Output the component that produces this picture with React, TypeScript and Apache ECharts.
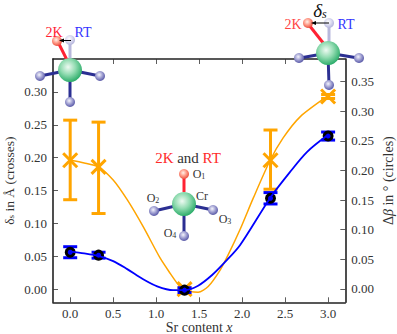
import React, { useEffect, useRef } from "react";
import * as echarts from "echarts";

const FONT = "'Liberation Serif', serif";
const INK = "#333333";
const ORANGE = "#ffa500";
const BLUE = "#0000ff";
const RED = "#ff2233";

const xTicks = [0, 0.5, 1, 1.5, 2, 2.5, 3];
const leftTicks = [0, 0.05, 0.1, 0.15, 0.2, 0.25, 0.3];
const rightTicks = [0, 0.05, 0.1, 0.15, 0.2, 0.25, 0.3, 0.35];

const srContent = [0, 0.33, 1.33, 2.33, 3];
const deltaS = [0.196, 0.186, 0, 0.196, 0.293];
const deltaSLow = [0.136, 0.115, -0.002, 0.152, 0.29];
const deltaSHigh = [0.257, 0.254, 0.002, 0.242, 0.296];
const deltaBeta = [0.062, 0.057, -0.002, 0.153, 0.258];
const deltaBetaLow = [0.0527, 0.052, -0.006, 0.1434, 0.2512];
const deltaBetaHigh = [0.0713, 0.062, 0.002, 0.1626, 0.2648];

const orangeCurveX = [0, 0.163, 0.326, 0.5, 0.663, 0.849, 1.047, 1.163, 1.256, 1.326, 1.488, 1.605, 1.744, 1.837, 1.977, 2.128, 2.326, 2.477, 2.674, 2.988];
const orangeCurveY = [0.196, 0.192, 0.186, 0.166, 0.136, 0.095, 0.047, 0.024, 0.007, -0.0015, -0.0046, 0.004, 0.029, 0.052, 0.091, 0.138, 0.196, 0.23, 0.262, 0.293];
const blueCurveX = [0, 0.163, 0.326, 0.5, 0.663, 0.849, 1.012, 1.198, 1.326, 1.488, 1.651, 1.802, 1.977, 2.326, 2.558, 2.756, 2.988];
const blueCurveY = [0.063, 0.06, 0.0557, 0.047, 0.0335, 0.0165, 0.0045, -0.002, -0.002, 0.0055, 0.0235, 0.0456, 0.0743, 0.1536, 0.1975, 0.2313, 0.2588];

const pairs = (a: number[], b: number[]) => a.map((v, i) => [v, b[i]]);

const gradient = (stops: string[]) => ({
  type: "radial",
  x: 0.42,
  y: 0.38,
  r: 0.62,
  colorStops: stops.map((color, i) => ({ offset: i / (stops.length - 1), color })),
});
const GREEN_BALL = gradient(["#eefaf2", "#93dcb2", "#2fae6c"]);
const BLUE_BALL = gradient(["#f4f4fc", "#a4a4d4", "#5a5aa8"]);
const RED_BALL = gradient(["#fff2ea", "#ff9e8c", "#ea5240"]);
const PALE_BALL = gradient(["#ffffff", "#dcdcf0", "#b4b4dc"]);
const STICK = "#2b2f92";
const PALE_STICK = "#b8b8dc";

const Z = 100;
const stick = (x1: number, y1: number, x2: number, y2: number, stroke: string) => ({
  type: "line", z: Z, shape: { x1, y1, x2, y2 }, style: { stroke, lineWidth: 3 },
});
const ball = (cx: number, cy: number, r: number, fill: any) => ({
  type: "circle", z: Z + 1, shape: { cx, cy, r }, style: { fill },
});
const SUB = { s: { fontSize: 8, fontFamily: FONT, fill: INK, padding: [5, 0, 0, 0] } };
const label = (x: number, y: number, text: string, fill: string, fontSize: number, extra: any = {}) => ({
  type: "text", z: Z + 2, x, y,
  style: { text, fill, fontSize, fontFamily: FONT, align: "center", verticalAlign: "middle", rich: SUB, ...extra },
});
const arrow = (x1: number, x2: number, y: number) => [
  { type: "line", z: Z + 3, shape: { x1, y1: y, x2: x2 + 3, y2: y }, style: { stroke: "#000", lineWidth: 1 } },
  { type: "polygon", z: Z + 3, shape: { points: [[x2, y], [x2 + 5, y - 2], [x2 + 5, y + 2]] }, style: { fill: "#000" } },
];

const molecules = [
  // left molecule
  stick(70, 70, 40, 76, STICK), stick(70, 70, 100, 76, STICK), stick(70, 70, 70, 102, STICK),
  stick(70, 60, 70, 40, PALE_STICK), stick(68, 62, 58, 42, RED),
  ball(40, 76, 5, BLUE_BALL), ball(100, 76, 5, BLUE_BALL), ball(70, 102, 5, BLUE_BALL),
  ball(57, 41, 5, RED_BALL), ball(70, 40, 5, PALE_BALL), ball(70, 70, 12, GREEN_BALL),
  ...arrow(71, 59, 40.5),
  label(54, 32, "2K", RED, 14), label(83, 32, "RT", "#3333ff", 14),
  // right molecule
  stick(328, 53, 300, 58, STICK), stick(328, 53, 358, 58, STICK), stick(328, 53, 329, 85, STICK),
  stick(329, 42, 329, 23, PALE_STICK), stick(324, 44, 309, 25, RED),
  ball(299, 58, 5, BLUE_BALL), ball(359, 58, 5, BLUE_BALL), ball(329, 85, 5, BLUE_BALL),
  ball(308, 23, 5, RED_BALL), ball(329, 23, 5, PALE_BALL), ball(328, 53, 12, GREEN_BALL),
  ...arrow(329, 311, 23),
  label(293, 24, "2K", "#ff4444", 14), label(346, 24, "RT", "#3333ff", 14),
  label(320, 10, "δ{b|s}", "#111", 19, {
    fontStyle: "italic",
    rich: { b: { fontSize: 12, fontStyle: "italic", fontFamily: FONT, fill: "#111", padding: [8, 0, 0, 0] } },
  }),
  // middle molecule
  stick(184, 204, 154, 211, STICK), stick(184, 204, 213, 210, STICK), stick(184, 204, 184, 236, STICK),
  stick(184, 192, 184, 174, RED),
  ball(154, 211, 5, BLUE_BALL), ball(213, 210, 5, BLUE_BALL), ball(184, 236, 5, BLUE_BALL),
  ball(184, 174, 5, RED_BALL), ball(184, 204, 12, GREEN_BALL),
  label(188, 158, "{r|2K} and {r|RT}", INK, 15, { rich: { r: { fill: "#ff2a2a", fontSize: 15, fontFamily: FONT } } }),
  label(199, 174, "O{s|1}", INK, 12), label(153, 198, "O{s|2}", INK, 12),
  label(225, 219, "O{s|3}", INK, 12), label(170, 233, "O{s|4}", INK, 12),
  label(202, 196, "Cr", INK, 12),
];

const axisBase = {
  axisLine: { show: true, onZero: false, lineStyle: { color: "#222", width: 1.6 } },
  axisTick: { show: true, inside: true, length: 5, lineStyle: { color: INK, width: 0.8 } },
  splitLine: { show: false },
};
const labelBase = { color: INK, fontSize: 13, fontFamily: FONT };

function errorSeries(color: string, low: number[], high: number[], yAxisIndex: number, z: number) {
  return {
    type: "custom", xAxisIndex: 0, yAxisIndex, z, clip: false, silent: true,
    data: srContent.map((x, i) => [x, low[i], high[i]]),
    encode: { x: 0, y: [1, 2] },
    renderItem: (_: any, api: any) => {
      const a = api.coord([api.value(0), api.value(1)]);
      const b = api.coord([api.value(0), api.value(2)]);
      const style = { stroke: color, lineWidth: 3, fill: "none" };
      const seg = (x1: number, y1: number, x2: number, y2: number) => ({ type: "line", shape: { x1, y1, x2, y2 }, style });
      return {
        type: "group",
        children: [seg(a[0], a[1], b[0], b[1]), seg(a[0] - 7, a[1], a[0] + 7, a[1]), seg(b[0] - 7, b[1], b[0] + 7, b[1])],
      };
    },
  };
}

const option: any = {
  animation: false,
  graphic: { elements: molecules },
  grid: { left: 53, right: 51.7, top: 59, bottom: 31.7, containLabel: false, outerBoundsMode: "none" },
  xAxis: [
    {
      ...axisBase, type: "value", position: "bottom", min: -0.2, max: 3.2,
      axisTick: { ...axisBase.axisTick, customValues: xTicks },
      axisLabel: { ...labelBase, margin: 5, customValues: xTicks, formatter: (v: number) => v.toFixed(1) },
      name: "Sr content {i|x}", nameLocation: "middle", nameGap: 25, nameMoveOverlap: false,
      nameTextStyle: { ...labelBase, fontSize: 14, lineHeight: 12, verticalAlign: "middle", rich: { i: { fontStyle: "italic", fontSize: 14, lineHeight: 12, fontFamily: FONT, color: INK } } },
    },
    {
      ...axisBase, type: "value", position: "top", min: -0.2, max: 3.2,
      axisTick: { ...axisBase.axisTick, customValues: xTicks },
      axisLabel: { show: false },
    },
  ],
  yAxis: [
    {
      ...axisBase, type: "value", position: "left", min: -0.02, max: 0.35,
      axisTick: { ...axisBase.axisTick, customValues: leftTicks },
      axisLabel: { ...labelBase, margin: 6, customValues: leftTicks, formatter: (v: number) => v.toFixed(2) },
      name: "δ{s|s} in Å (crosses)", nameLocation: "middle", nameGap: 44, nameRotate: 90, nameMoveOverlap: false,
      nameTextStyle: { ...labelBase, fontSize: 13.5, verticalAlign: "middle", rich: { s: { fontSize: 9, fontFamily: FONT, color: INK, padding: [4, 0, 0, 0] } } },
    },
    {
      ...axisBase, type: "value", position: "right", min: -0.0225, max: 0.388,
      axisTick: { ...axisBase.axisTick, customValues: rightTicks },
      axisLabel: { ...labelBase, margin: 6, customValues: rightTicks, formatter: (v: number) => v.toFixed(2) },
      name: "Δ{i|β} in ° (circles)", nameLocation: "middle", nameGap: 43, nameRotate: 90, nameMoveOverlap: false,
      nameTextStyle: { ...labelBase, fontSize: 14, verticalAlign: "middle", rich: { i: { fontStyle: "italic", fontSize: 14, fontFamily: FONT, color: INK } } },
    },
  ],
  series: [
    errorSeries(ORANGE, deltaSLow, deltaSHigh, 0, 2),
    {
      type: "custom", xAxisIndex: 0, yAxisIndex: 0, z: 3, clip: false, silent: true,
      data: pairs(srContent, deltaS),
      renderItem: (_: any, api: any) => {
        const p = api.coord([api.value(0), api.value(1)]);
        const style = { stroke: ORANGE, lineWidth: 3, fill: "none" };
        const r = 7;
        return {
          type: "group",
          children: [
            { type: "line", shape: { x1: p[0] - r, y1: p[1] - r, x2: p[0] + r, y2: p[1] + r }, style },
            { type: "line", shape: { x1: p[0] - r, y1: p[1] + r, x2: p[0] + r, y2: p[1] - r }, style },
          ],
        };
      },
    },
    {
      type: "line", xAxisIndex: 0, yAxisIndex: 0, z: 4, silent: true, showSymbol: false, smooth: 0.25,
      data: pairs(orangeCurveX, orangeCurveY), lineStyle: { color: ORANGE, width: 1.5 },
    },
    errorSeries(BLUE, deltaBetaLow, deltaBetaHigh, 1, 5),
    {
      type: "scatter", xAxisIndex: 0, yAxisIndex: 1, z: 6, silent: true, symbol: "circle", symbolSize: 8,
      data: pairs(srContent, deltaBeta),
      itemStyle: { color: BLUE, borderColor: "#000", borderWidth: 3, opacity: 1 },
    },
    {
      type: "line", xAxisIndex: 0, yAxisIndex: 1, z: 7, silent: true, showSymbol: false, smooth: 0.3,
      data: pairs(blueCurveX, blueCurveY), lineStyle: { color: BLUE, width: 1.8 },
    },
  ],
};

export default function App() {
  const ref = useRef<HTMLDivElement>(null);
  useEffect(() => {
    const chart = echarts.init(ref.current!, undefined, { renderer: "svg" });
    chart.setOption(option);
    return () => chart.dispose();
  }, []);
  return <div ref={ref} style={{ position: "absolute", left: 0, top: 0, width: 397, height: 334, background: "#fff" }} />;
}
